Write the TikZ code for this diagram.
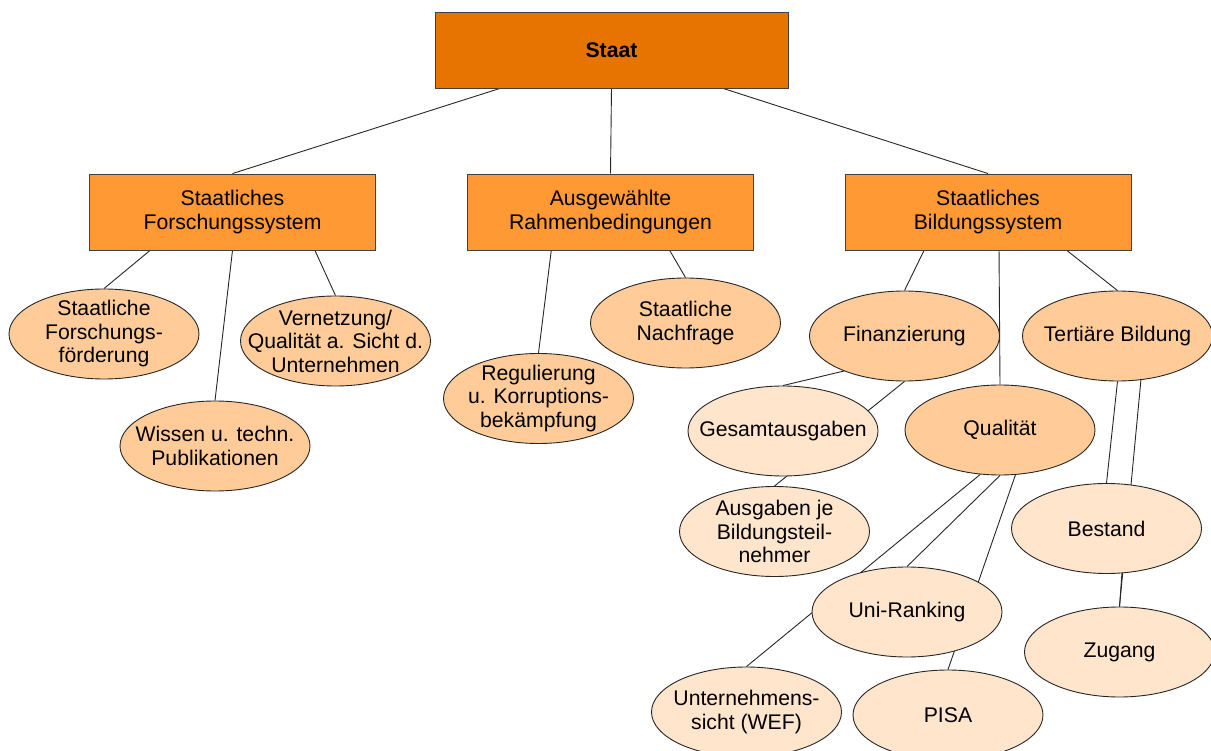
\documentclass[tikz,border=0pt]{standalone}
\usepackage{fontspec}
\setmainfont{Liberation Sans}
\usetikzlibrary{shapes.geometric, backgrounds}

\definecolor{staatorange}{RGB}{232,116,0}
\definecolor{kastenorange}{RGB}{255,153,51}
\definecolor{ovaldunkel}{RGB}{255,204,153}
\definecolor{ovalhell}{RGB}{255,229,204}

\tikzset{
  kasten/.style={draw=black!75, line width=0.9pt, minimum width=286pt, minimum height=76pt, inner sep=0pt, align=center, fill=kastenorange},
  oval/.style={ellipse, draw=black!85, line width=0.9pt, minimum width=190pt, minimum height=90pt, inner sep=0pt},
  ebene3/.style={oval, fill=ovaldunkel},
  ebene4/.style={oval, fill=ovalhell},
  verbindung/.style={line width=0.9pt, draw=black!85}
}

\begin{document}
\begin{tikzpicture}[x=1pt, y=-1pt, font=\fontsize{21.2}{23.5}\selectfont, every label/.style={align=center}]
\useasboundingbox (0,0) rectangle (1211,751);

% oberste Ebene
\node[kasten, minimum width=353pt, fill=staatorange, font=\fontsize{21.2}{23.5}\selectfont\bfseries] (staat) at (611.5,50) {Staat};

% zweite Ebene
\node[kasten] (sfs) at (232.5,212) {Staatliches\\Forschungssystem};
\node[kasten] (ar) at (610.5,212) {Ausgewählte\\Rahmenbedingungen};
\node[kasten] (sbs) at (988,212) {Staatliches\\Bildungssystem};

% Forschungssystem
\node[ebene3, label=center:Staatliche\\Forschungs-\\förderung] (sff) at (104,334) {};
\node[ebene3, label=center:Wissen u. techn.\\Publikationen] (wissen) at (215,446) {};
\node[ebene3, label=center:Vernetzung/\\Qualität a. Sicht d.\\Unternehmen] (vernetz) at (335.5,341) {};

% Rahmenbedingungen
\node[ebene3, label=center:Regulierung\\u. Korruptions-\\bekämpfung] (regul) at (538.5,398.5) {};
\node[ebene3, label=center:Staatliche\\Nachfrage] (nachfrage) at (685.5,323) {};

% Bildungssystem
\node[ebene3, label=center:Finanzierung] (fin) at (904.5,336) {};
\node[ebene3, label=center:Tertiäre Bildung] (tert) at (1117.5,336) {};
\node[ebene3, label=center:Qualität] (qual) at (1000,430) {};
\node[ebene4, label=center:Gesamtausgaben] (gesamt) at (783,431) {};
\node[ebene4, label=center:Ausgaben je\\Bildungsteil-\\nehmer] (ausgaben) at (774.5,531.5) {};
\node[ebene4, label=center:Uni-Ranking] (uni) at (907,612) {};
\node[ebene4, label=center:Unternehmens-\\sicht (WEF)] (untern) at (746.5,712) {};
\node[ebene4, label=center:PISA] (pisa) at (948,715) {};
\node[ebene4, label=center:Bestand] (bestand) at (1106.5,528.5) {};
\node[ebene4, label=center:Zugang] (zugang) at (1119.5,652) {};

% Verbindungen hinter den Knoten
\begin{scope}[on background layer]
\draw[verbindung] (staat.199) -- (sfs.north);
\draw[verbindung] (staat.south) -- (ar.north);
\draw[verbindung] (staat.-19) -- (sbs.north);
\draw[verbindung] (sfs.205) -- (sff.north);
\draw[verbindung] (sfs.south) -- (wissen.north);
\draw[verbindung] (sfs.-25) -- (vernetz.north);
\draw[verbindung] (ar.213) -- (regul.north);
\draw[verbindung] (ar.-33) -- (nachfrage.north);
\draw[verbindung] (sbs.211) -- (fin.north);
\draw[verbindung] (sbs.-74) -- (qual.north);
\draw[verbindung] (sbs.-26) -- (tert.north);
\draw[verbindung] (fin.210) -- (gesamt.north);
\draw[verbindung] (fin.south) -- (ausgaben.north);
\draw[verbindung] (qual.246) -- (untern.north);
\draw[verbindung] (qual.south) -- (uni.north);
\draw[verbindung] (qual.-71) -- (pisa.north);
\draw[verbindung] (tert.south) -- (bestand.north);
\draw[verbindung] (tert.-62) -- (zugang.north);
\draw[verbindung] (bestand.-71) -- (zugang.north);
\end{scope}
\end{tikzpicture}
\end{document}
